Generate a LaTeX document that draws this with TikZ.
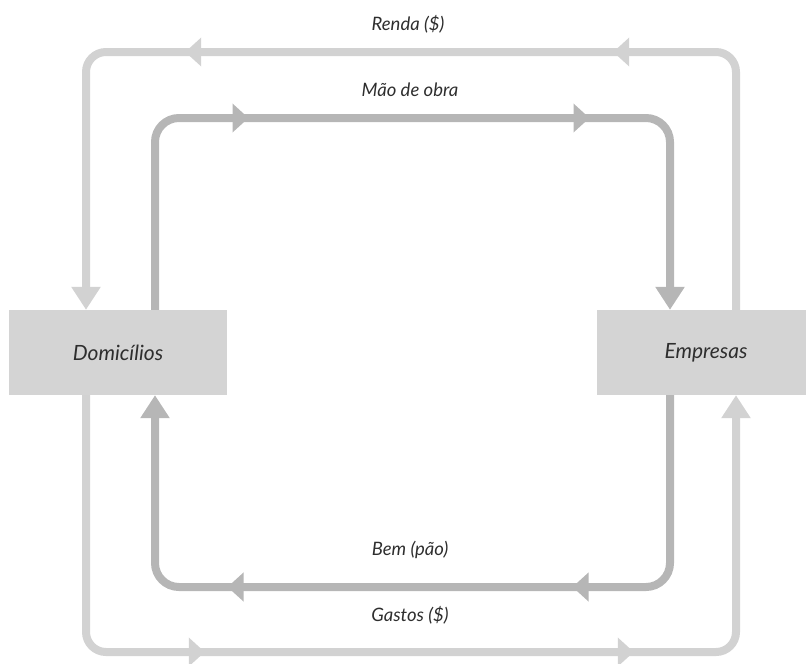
\documentclass[tikz,border=0pt]{standalone}
\usepackage{fontspec}
\setmainfont{Lato}
\usetikzlibrary{arrows.meta,decorations.markings}
\definecolor{outerc}{HTML}{D2D2D2}
\definecolor{innerc}{HTML}{B6B6B6}
\definecolor{boxc}{HTML}{D4D4D4}
\definecolor{txtc}{HTML}{2E2E2E}
\tikzset{
  agent/.style={fill=boxc, draw=none, minimum height=85pt, minimum width=218pt, inner sep=0pt, text=txtc, font=\fontsize{21}{24}\selectfont\itshape},
  lbl/.style={text=txtc, font=\fontsize{18.5}{21}\selectfont\itshape, inner sep=0pt},
  outerflow/.style={draw=outerc, line width=8pt, rounded corners=20pt},
  innerflow/.style={draw=innerc, line width=8pt, rounded corners=24pt},
  vhead/.style={-{Triangle[length=23pt,width=28pt]}},
  midheads/.style 2 args={postaction={decorate, decoration={markings,
     mark=at position #1 with {\arrow{Triangle[length=16pt,width=28pt]}},
     mark=at position #2 with {\arrow{Triangle[length=16pt,width=28pt]}}}}}
}
\begin{document}
\begin{tikzpicture}[x=1pt,y=-1pt]
\useasboundingbox (0,0) rectangle (806,664);
\node[agent] (dom) at (118,352.5) {Domicílios};
\node[agent] (emp) at (706,352.5) {Empresas};
% outer top: Renda
\draw[outerflow, vhead, midheads={372pt}{800pt}] (emp.north -| 736,0) |- (86,52) -- (dom.north -| 86,0);
% inner top: Mao de obra
\draw[innerflow, vhead, midheads={275pt}{616pt}] (dom.north -| 155,0) |- (670,118) -- (emp.north -| 670,0);
% inner bottom: Bem
\draw[innerflow, vhead, midheads={279pt}{624pt}] (emp.south -| 670,0) |- (155,587) -- (dom.south -| 155,0);
% outer bottom: Gastos
\draw[outerflow, vhead, midheads={367pt}{796pt}] (dom.south -| 86,0) |- (736,652) -- (emp.south -| 736,0);
% labels
\node[lbl] (renda) at (408,24) {Renda (\$)};
\node[lbl] (mao) at (410,90) {Mão de obra};
\node[lbl] (bem) at (410,550) {Bem (pão)};
\node[lbl] (gastos) at (410,615) {Gastos (\$)};
\end{tikzpicture}
\end{document}
